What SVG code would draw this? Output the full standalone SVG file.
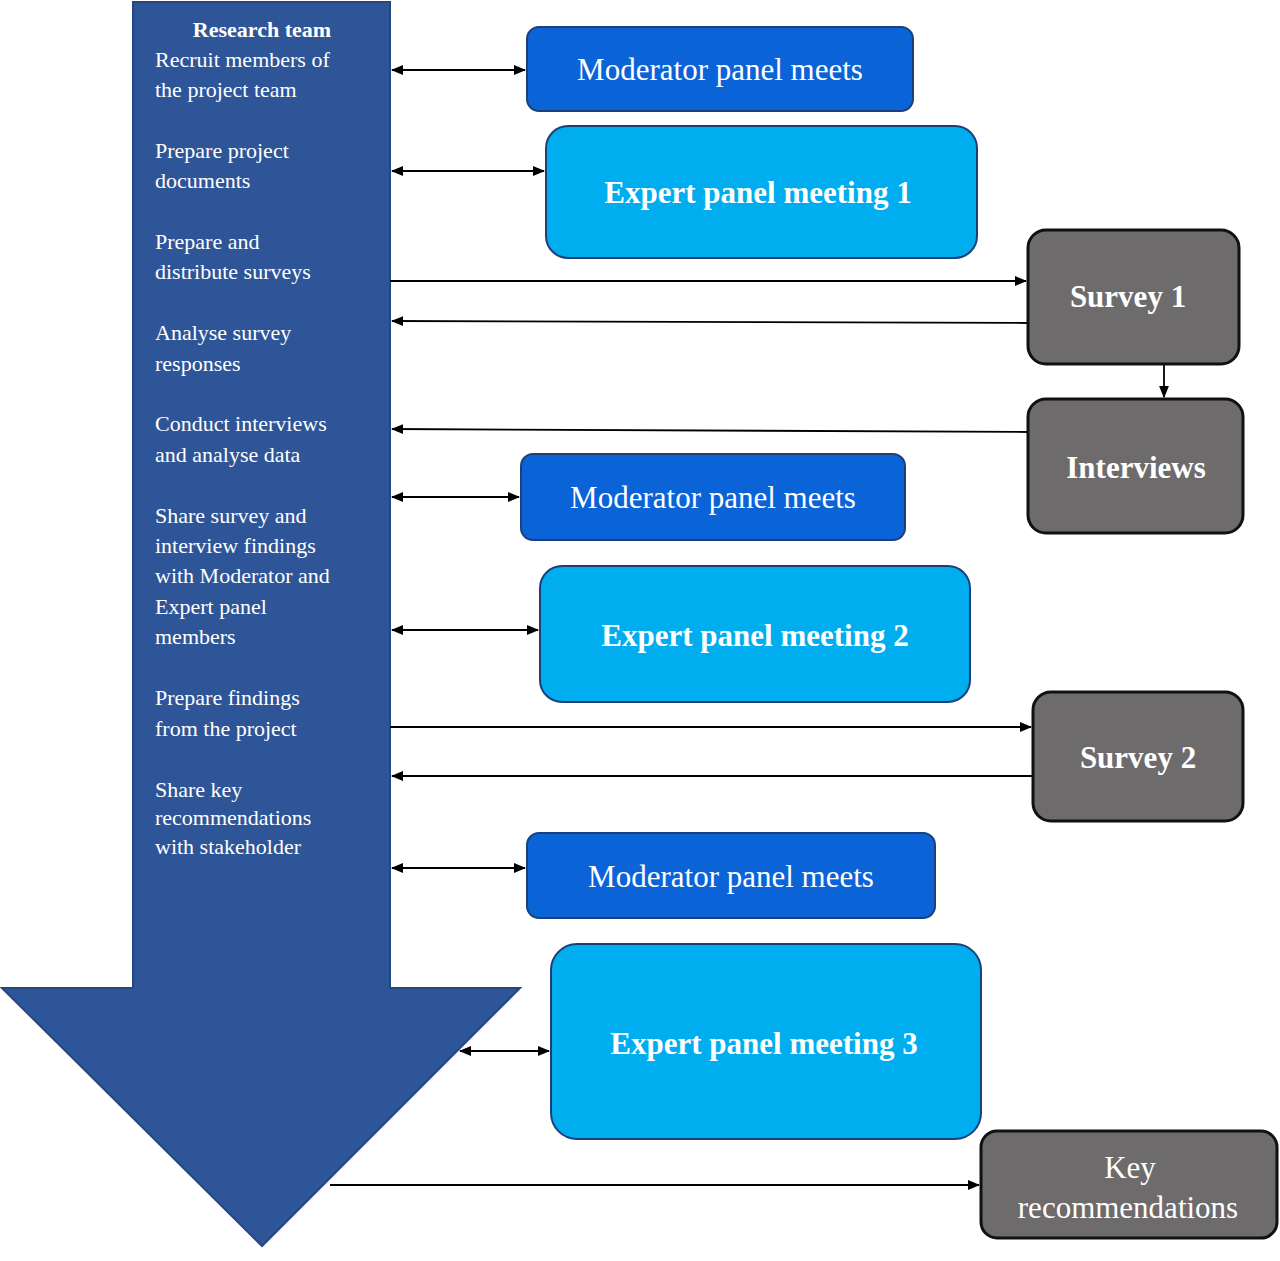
<svg xmlns="http://www.w3.org/2000/svg" width="1280" height="1261" viewBox="0 0 1280 1261">
<defs>
<style>
.lt{font-family:"Liberation Serif",serif;font-size:22px;fill:#fff}
.mod{fill:#0b63d8;stroke:#1d3f7a;stroke-width:2}
.exp{fill:#00aeef;stroke:#1d3f7a;stroke-width:2}
.gry{fill:#6d6b6b;stroke:#111;stroke-width:3}
.t{font-family:"Liberation Serif",serif;font-size:31px;fill:#fff;text-anchor:middle}
.b{font-weight:bold}
.c{stroke:#000;stroke-width:1.8;fill:none}
</style>
<marker id="a" viewBox="0 0 10 10" refX="9" refY="5" markerWidth="7" markerHeight="7" orient="auto-start-reverse"><path d="M0,1 L10,5 L0,9 Z" fill="#000"/></marker>
</defs>
<g id="arrow">
<path d="M133,2 H390 V988 H520 L262,1246 L2,988 H133 Z" fill="#2e5597" stroke="#24477f" stroke-width="2"/>
<text class="lt b" x="262" y="37" text-anchor="middle" font-weight="bold">Research team</text>
<text class="lt" x="155" y="67">Recruit members of</text>
<text class="lt" x="155" y="97">the project team</text>
<text class="lt" x="155" y="158">Prepare project</text>
<text class="lt" x="155" y="188">documents</text>
<text class="lt" x="155" y="249">Prepare and</text>
<text class="lt" x="155" y="279">distribute surveys</text>
<text class="lt" x="155" y="340">Analyse survey</text>
<text class="lt" x="155" y="371">responses</text>
<text class="lt" x="155" y="431">Conduct interviews</text>
<text class="lt" x="155" y="462">and analyse data</text>
<text class="lt" x="155" y="523">Share survey and</text>
<text class="lt" x="155" y="553">interview findings</text>
<text class="lt" x="155" y="583">with Moderator and</text>
<text class="lt" x="155" y="614">Expert panel</text>
<text class="lt" x="155" y="644">members</text>
<text class="lt" x="155" y="705">Prepare findings</text>
<text class="lt" x="155" y="736">from the project</text>
<text class="lt" x="155" y="797">Share key</text>
<text class="lt" x="155" y="825">recommendations</text>
<text class="lt" x="155" y="854">with stakeholder</text>
</g>
<g id="connectors">
<line class="c" x1="392" y1="70" x2="525" y2="70" marker-start="url(#a)" marker-end="url(#a)"/>
<line class="c" x1="392" y1="171" x2="544" y2="171" marker-start="url(#a)" marker-end="url(#a)"/>
<line class="c" x1="390" y1="281" x2="1026" y2="281" marker-end="url(#a)"/>
<line class="c" x1="1028" y1="323" x2="392" y2="321" marker-end="url(#a)"/>
<line class="c" x1="1164" y1="364" x2="1164" y2="397" marker-end="url(#a)"/>
<line class="c" x1="1028" y1="432" x2="392" y2="429" marker-end="url(#a)"/>
<line class="c" x1="392" y1="497" x2="519" y2="497" marker-start="url(#a)" marker-end="url(#a)"/>
<line class="c" x1="392" y1="630" x2="538" y2="630" marker-start="url(#a)" marker-end="url(#a)"/>
<line class="c" x1="390" y1="727" x2="1031" y2="727" marker-end="url(#a)"/>
<line class="c" x1="1033" y1="776" x2="392" y2="776" marker-end="url(#a)"/>
<line class="c" x1="392" y1="868" x2="525" y2="868" marker-start="url(#a)" marker-end="url(#a)"/>
<line class="c" x1="460" y1="1051" x2="549" y2="1051" marker-start="url(#a)" marker-end="url(#a)"/>
<line class="c" x1="330" y1="1185" x2="979" y2="1185" marker-end="url(#a)"/>
</g>
<g id="mod1"><rect class="mod" x="527" y="27" width="386" height="84" rx="12"/><text class="t" x="720" y="80">Moderator panel meets</text></g>
<g id="exp1"><rect class="exp" x="546" y="126" width="431" height="132" rx="22"/><text class="t b" x="758" y="203">Expert panel meeting 1</text></g>
<g id="survey1"><rect class="gry" x="1028" y="230" width="211" height="134" rx="18"/><text class="t b" x="1128" y="307">Survey 1</text></g>
<g id="interviews"><rect class="gry" x="1028" y="399" width="215" height="134" rx="18"/><text class="t b" x="1136" y="478">Interviews</text></g>
<g id="mod2"><rect class="mod" x="521" y="454" width="384" height="86" rx="12"/><text class="t" x="713" y="508">Moderator panel meets</text></g>
<g id="exp2"><rect class="exp" x="540" y="566" width="430" height="136" rx="22"/><text class="t b" x="755" y="646">Expert panel meeting 2</text></g>
<g id="survey2"><rect class="gry" x="1033" y="692" width="210" height="129" rx="18"/><text class="t b" x="1138" y="768">Survey 2</text></g>
<g id="mod3"><rect class="mod" x="527" y="833" width="408" height="85" rx="12"/><text class="t" x="731" y="887">Moderator panel meets</text></g>
<g id="exp3"><rect class="exp" x="551" y="944" width="430" height="195" rx="26"/><text class="t b" x="764" y="1054">Expert panel meeting 3</text></g>
<g id="keyrec"><rect class="gry" x="981" y="1131" width="296" height="107" rx="16"/><text class="t" x="1130" y="1178">Key</text><text class="t" x="1128" y="1218">recommendations</text></g>
</svg>
